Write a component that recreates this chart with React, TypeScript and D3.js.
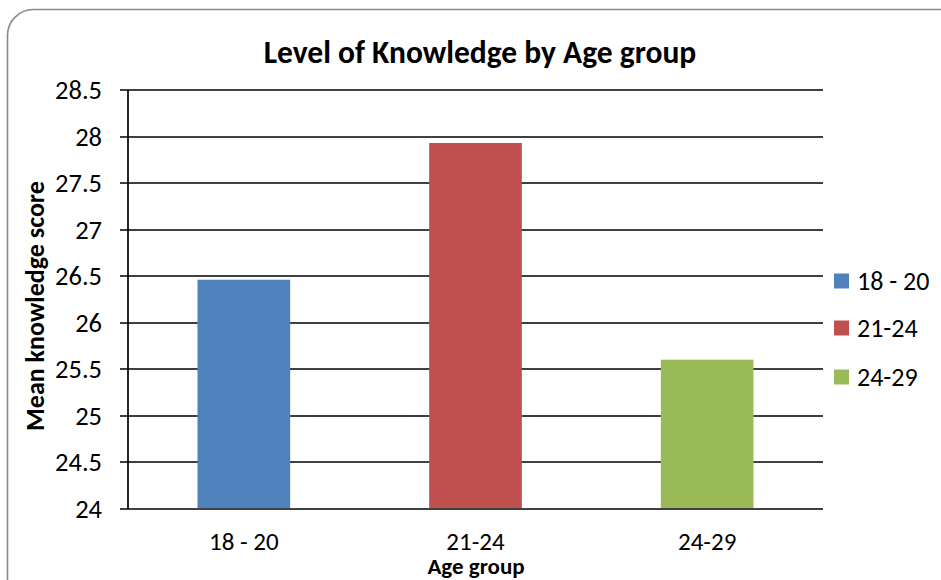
import React from "react";
import * as d3 from "d3";

const categories = ["18 - 20", "21-24", "24-29"];
const meanScores = [26.46, 27.93, 25.6];
const barColors = ["#4F81BD", "#C0504D", "#9BBB59"];
const yTicks = [24, 24.5, 25, 25.5, 26, 26.5, 27, 27.5, 28, 28.5];

const W = 941;
const H = 580;
const FONT = "Carlito, Calibri, 'Liberation Sans', Arial, sans-serif";

export default function App() {
  const left = 128;
  const right = 823;
  const top = 90;
  const bottom = 508.5;

  const x = d3
    .scaleBand<string>()
    .domain(categories)
    .range([left, right])
    .paddingInner(0.6)
    .paddingOuter(0.3);

  const y = d3.scaleLinear().domain([24, 28.5]).range([bottom, top]);

  const px = (v: number) => Math.round(v);

  return (
    <div style={{ position: "absolute", left: 0, top: 0 }}>
      <svg width={W} height={H} style={{ display: "block" }}>
        <rect width={W} height={H} fill="#fff" />
        <rect
          x={7.5}
          y={9.5}
          width={W + 20}
          height={H + 20}
          rx={26}
          ry={26}
          fill="#fff"
          stroke="#8a8a8a"
          strokeWidth={1.6}
        />
        <text
          x={480}
          y={63}
          textAnchor="middle"
          fontFamily={FONT}
          fontWeight="bold"
          fontSize={31.5}
          fill="#000"
        >
          Level of Knowledge by Age group
        </text>

        {/* horizontal gridlines and left ticks */}
        {yTicks.map((t) => (
          <g key={t}>
            <line
              x1={120}
              x2={right}
              y1={px(y(t))}
              y2={px(y(t))}
              stroke="#000"
              strokeWidth={1.7}
            />
            <text
              x={102}
              y={y(t) + 9}
              textAnchor="end"
              fontFamily={FONT}
              fontSize={26.5}
              fill="#000"
            >
              {t}
            </text>
          </g>
        ))}

        {/* bars */}
        {categories.map((c, i) => (
          <rect
            key={c}
            x={x(c)!}
            y={y(meanScores[i])}
            width={x.bandwidth()}
            height={y(24) - y(meanScores[i]) - 0.5}
            fill={barColors[i]}
          />
        ))}

        {/* vertical axis line */}
        <line x1={px(left)} x2={px(left)} y1={top} y2={bottom + 0.5} stroke="#000" strokeWidth={1.7} />

        {/* category labels */}
        {categories.map((c) => (
          <text
            key={c}
            x={x(c)! + x.bandwidth() / 2}
            y={550}
            textAnchor="middle"
            fontFamily={FONT}
            fontSize={25}
            fill="#000"
          >
            {c}
          </text>
        ))}

        <text
          x={476}
          y={573.5}
          textAnchor="middle"
          fontFamily={FONT}
          fontWeight="bold"
          fontSize={23}
          fill="#000"
        >
          Age group
        </text>
        <text
          transform={`translate(44, 306) rotate(-90)`}
          textAnchor="middle"
          fontFamily={FONT}
          fontWeight="bold"
          fontSize={26}
          fill="#000"
        >
          Mean knowledge score
        </text>

        {/* legend */}
        {categories.map((c, i) => {
          const cy = [281, 328, 377][i];
          return (
            <g key={c}>
              <rect x={834} y={cy - 7.5} width={15} height={15} fill={barColors[i]} />
              <text x={857} y={cy + 9} fontFamily={FONT} fontSize={26} fill="#000">
                {c}
              </text>
            </g>
          );
        })}
      </svg>
    </div>
  );
}
